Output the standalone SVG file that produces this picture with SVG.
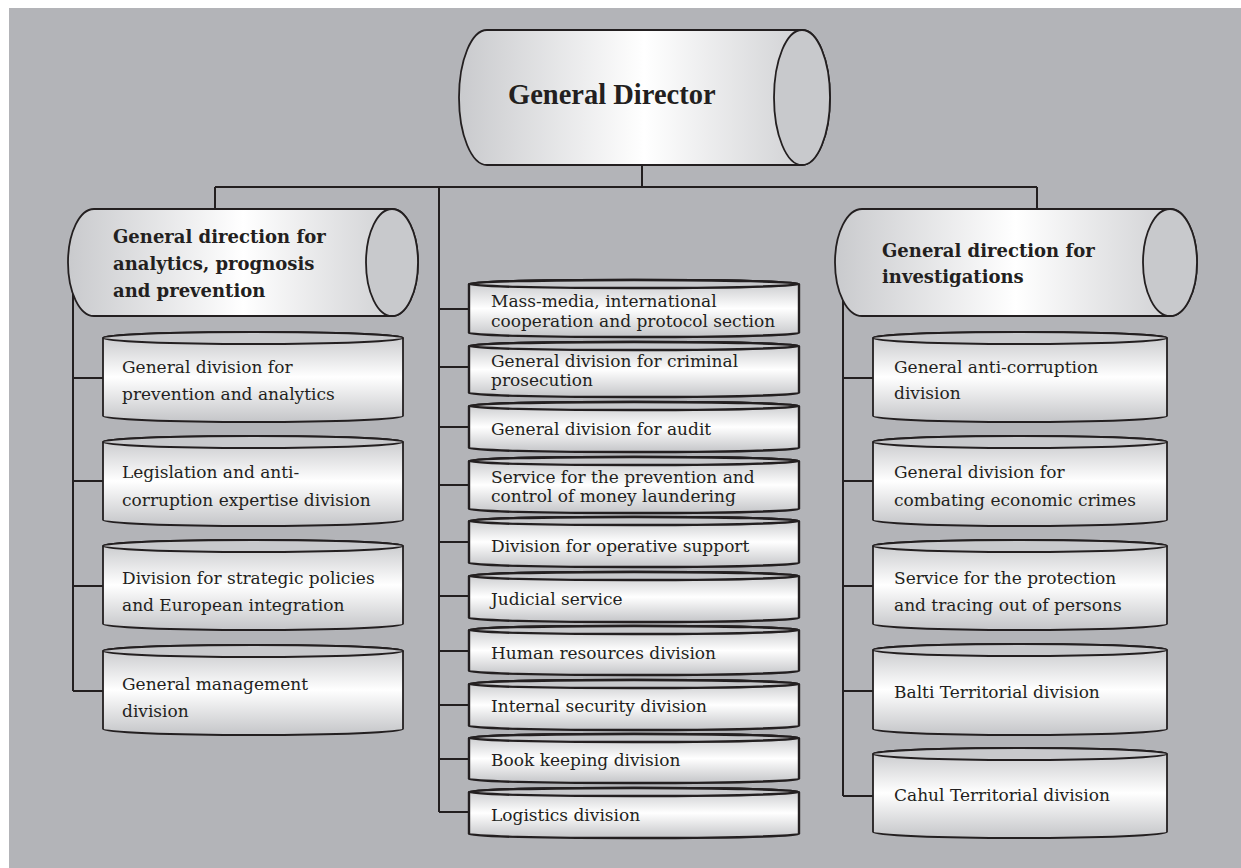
<svg xmlns="http://www.w3.org/2000/svg" width="1241" height="868" viewBox="0 0 1241 868">
<defs>
<linearGradient id="hg" x1="0" y1="0" x2="1" y2="0">
<stop offset="0" stop-color="#c9cacd"/>
<stop offset="0.5" stop-color="#ffffff"/>
<stop offset="1" stop-color="#c9cacd"/>
</linearGradient>
<linearGradient id="vg" x1="0" y1="0" x2="0" y2="1">
<stop offset="0" stop-color="#c4c5c8"/>
<stop offset="0.5" stop-color="#ffffff"/>
<stop offset="1" stop-color="#c4c5c8"/>
</linearGradient>
<style>
.body{stroke:#231f20;stroke-width:1.8;}
.h{fill:url(#hg);}
.v{fill:url(#vg);}
.cap{fill:#c8c9cc;stroke:#231f20;stroke-width:1.8;}
.m{stroke-width:2.4;}
.ln{stroke:#231f20;stroke-width:2;fill:none;}
.t{font-family:"DejaVu Serif","Liberation Serif",serif;font-size:17px;fill:#231f20;}
.tb{font-family:"DejaVu Serif","Liberation Serif",serif;font-size:18px;font-weight:bold;fill:#231f20;}
.tg{font-family:"Liberation Serif",serif;font-size:28.5px;font-weight:bold;fill:#231f20;}
</style>
</defs>
<rect x="9" y="8" width="1232" height="860" fill="#b3b4b8"/>

<g id="connectors">
<path class="ln" d="M642,165V187M215,187H1037M215,187V209M1037,187V209"/>
<path class="ln" d="M439,187V812M439,309H469M439,367H469M439,427H469M439,485H469M439,542H469M439,596H469M439,651H469M439,705H469M439,759H469M439,812H469"/>
<path class="ln" d="M73,262V691M73,378H103M73,481H103M73,586H103M73,691H103"/>
<path class="ln" d="M843,262V796M843,378H873M843,481H873M843,586H873M843,691H873M843,796H873"/>
</g>

<g id="general-director">
<path class="body h" d="M487,30H802A28,67.5 0 0 1 802,165H487A28,67.5 0 0 1 487,30Z"/>
<ellipse class="cap" cx="802" cy="97.5" rx="28" ry="67.5"/>
<text class="tg" x="508" y="104">General Director</text>
</g>

<g id="dir-analytics">
<path class="body h" d="M94,209H392A26,53.5 0 0 1 392,316H94A26,53.5 0 0 1 94,209Z"/>
<ellipse class="cap" cx="392" cy="262.5" rx="26" ry="53.5"/>
<text class="tb"><tspan x="113" y="243">General direction for</tspan><tspan x="113" y="270">analytics, prognosis</tspan><tspan x="113" y="297">and prevention</tspan></text>
</g>

<g id="dir-investigations">
<path class="body h" d="M862,209H1170A27,53.5 0 0 1 1170,316H862A27,53.5 0 0 1 862,209Z"/>
<ellipse class="cap" cx="1170" cy="262.5" rx="27" ry="53.5"/>
<text class="tb"><tspan x="882" y="257">General direction for</tspan><tspan x="882" y="283">investigations</tspan></text>
</g>

<g id="l1">
<path class="body v" d="M103,338A150,6 0 0 1 403,338V416A150,6 0 0 1 103,416Z"/>
<ellipse class="cap" cx="253" cy="338" rx="150" ry="6"/>
<text class="t"><tspan x="122" y="373">General division for</tspan><tspan x="122" y="400">prevention and analytics</tspan></text>
</g>
<g id="l2">
<path class="body v" d="M103,442A150,6 0 0 1 403,442V520A150,6 0 0 1 103,520Z"/>
<ellipse class="cap" cx="253" cy="442" rx="150" ry="6"/>
<text class="t"><tspan x="122" y="478">Legislation and anti-</tspan><tspan x="122" y="506">corruption expertise division</tspan></text>
</g>
<g id="l3">
<path class="body v" d="M103,546A150,6 0 0 1 403,546V624A150,6 0 0 1 103,624Z"/>
<ellipse class="cap" cx="253" cy="546" rx="150" ry="6"/>
<text class="t"><tspan x="122" y="584">Division for strategic policies</tspan><tspan x="122" y="611">and European integration</tspan></text>
</g>
<g id="l4">
<path class="body v" d="M103,651A150,6 0 0 1 403,651V729A150,6 0 0 1 103,729Z"/>
<ellipse class="cap" cx="253" cy="651" rx="150" ry="6"/>
<text class="t"><tspan x="122" y="690">General management</tspan><tspan x="122" y="717">division</tspan></text>
</g>

<g id="m1">
<path class="body v m" d="M469,284A165,4 0 0 1 799,284V333A165,4 0 0 1 469,333Z"/>
<ellipse class="cap m" cx="634" cy="284" rx="165" ry="4"/>
<text class="t"><tspan x="491" y="307">Mass-media, international</tspan><tspan x="491" y="327">cooperation and protocol section</tspan></text>
</g>
<g id="m2">
<path class="body v m" d="M469,346A165,4 0 0 1 799,346V393A165,4 0 0 1 469,393Z"/>
<ellipse class="cap m" cx="634" cy="346" rx="165" ry="4"/>
<text class="t"><tspan x="491" y="367">General division for criminal</tspan><tspan x="491" y="386">prosecution</tspan></text>
</g>
<g id="m3">
<path class="body v m" d="M469,406A165,4 0 0 1 799,406V448A165,4 0 0 1 469,448Z"/>
<ellipse class="cap m" cx="634" cy="406" rx="165" ry="4"/>
<text class="t" x="491" y="435">General division for audit</text>
</g>
<g id="m4">
<path class="body v m" d="M469,461A165,4 0 0 1 799,461V509A165,4 0 0 1 469,509Z"/>
<ellipse class="cap m" cx="634" cy="461" rx="165" ry="4"/>
<text class="t"><tspan x="491" y="483">Service for the prevention and</tspan><tspan x="491" y="502">control of money laundering</tspan></text>
</g>
<g id="m5">
<path class="body v m" d="M469,521A165,4 0 0 1 799,521V563A165,4 0 0 1 469,563Z"/>
<ellipse class="cap m" cx="634" cy="521" rx="165" ry="4"/>
<text class="t" x="491" y="552">Division for operative support</text>
</g>
<g id="m6">
<path class="body v m" d="M469,576A165,4 0 0 1 799,576V618A165,4 0 0 1 469,618Z"/>
<ellipse class="cap m" cx="634" cy="576" rx="165" ry="4"/>
<text class="t" x="491" y="605">Judicial service</text>
</g>
<g id="m7">
<path class="body v m" d="M469,630A165,4 0 0 1 799,630V671A165,4 0 0 1 469,671Z"/>
<ellipse class="cap m" cx="634" cy="630" rx="165" ry="4"/>
<text class="t" x="491" y="659">Human resources division</text>
</g>
<g id="m8">
<path class="body v m" d="M469,684A165,4 0 0 1 799,684V726A165,4 0 0 1 469,726Z"/>
<ellipse class="cap m" cx="634" cy="684" rx="165" ry="4"/>
<text class="t" x="491" y="712">Internal security division</text>
</g>
<g id="m9">
<path class="body v m" d="M469,738A165,4 0 0 1 799,738V779A165,4 0 0 1 469,779Z"/>
<ellipse class="cap m" cx="634" cy="738" rx="165" ry="4"/>
<text class="t" x="491" y="766">Book keeping division</text>
</g>
<g id="m10">
<path class="body v m" d="M469,792A165,4 0 0 1 799,792V834A165,4 0 0 1 469,834Z"/>
<ellipse class="cap m" cx="634" cy="792" rx="165" ry="4"/>
<text class="t" x="491" y="821">Logistics division</text>
</g>

<g id="r1">
<path class="body v" d="M873,338A147,6 0 0 1 1167,338V416A147,6 0 0 1 873,416Z"/>
<ellipse class="cap" cx="1020" cy="338" rx="147" ry="6"/>
<text class="t"><tspan x="894" y="373">General anti-corruption</tspan><tspan x="894" y="399">division</tspan></text>
</g>
<g id="r2">
<path class="body v" d="M873,442A147,6 0 0 1 1167,442V520A147,6 0 0 1 873,520Z"/>
<ellipse class="cap" cx="1020" cy="442" rx="147" ry="6"/>
<text class="t"><tspan x="894" y="478">General division for</tspan><tspan x="894" y="506">combating economic crimes</tspan></text>
</g>
<g id="r3">
<path class="body v" d="M873,546A147,6 0 0 1 1167,546V624A147,6 0 0 1 873,624Z"/>
<ellipse class="cap" cx="1020" cy="546" rx="147" ry="6"/>
<text class="t"><tspan x="894" y="584">Service for the protection</tspan><tspan x="894" y="611">and tracing out of persons</tspan></text>
</g>
<g id="r4">
<path class="body v" d="M873,650A147,6 0 0 1 1167,650V729A147,6 0 0 1 873,729Z"/>
<ellipse class="cap" cx="1020" cy="650" rx="147" ry="6"/>
<text class="t" x="894" y="698">Balti Territorial division</text>
</g>
<g id="r5">
<path class="body v" d="M873,754A147,6 0 0 1 1167,754V832A147,6 0 0 1 873,832Z"/>
<ellipse class="cap" cx="1020" cy="754" rx="147" ry="6"/>
<text class="t" x="894" y="801">Cahul Territorial division</text>
</g>
</svg>
